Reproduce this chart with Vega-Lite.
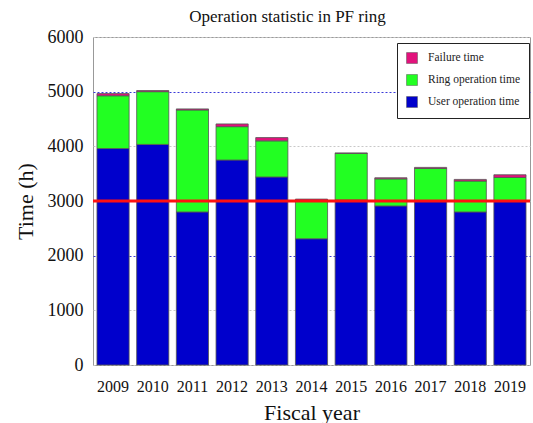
{
  "$schema": "https://vega.github.io/schema/vega-lite/v6.json",
  "autosize": {"type": "none"},
  "width": 437,
  "height": 328,
  "padding": {"left": 93, "top": 37, "right": 3, "bottom": 58},
  "background": "white",
  "config": {
    "font": "Liberation Serif",
    "view": {"stroke": "#999999", "strokeWidth": 1},
    "legend": {"labelFont": "Liberation Serif"}
  },
  "title": {
    "text": "Operation statistic in PF ring",
    "font": "Liberation Serif",
    "fontSize": 17,
    "fontWeight": "normal",
    "color": "#111111",
    "offset": 2,
    "dx": -24
  },
  "data": {
    "values": [
      {"year": "2009", "type": "User operation time", "hours": 3960},
      {"year": "2009", "type": "Ring operation time", "hours": 965},
      {"year": "2009", "type": "Failure time", "hours": 40},
      {"year": "2010", "type": "User operation time", "hours": 4035},
      {"year": "2010", "type": "Ring operation time", "hours": 965},
      {"year": "2010", "type": "Failure time", "hours": 20},
      {"year": "2011", "type": "User operation time", "hours": 2800},
      {"year": "2011", "type": "Ring operation time", "hours": 1865},
      {"year": "2011", "type": "Failure time", "hours": 20},
      {"year": "2012", "type": "User operation time", "hours": 3750},
      {"year": "2012", "type": "Ring operation time", "hours": 610},
      {"year": "2012", "type": "Failure time", "hours": 50},
      {"year": "2013", "type": "User operation time", "hours": 3440},
      {"year": "2013", "type": "Ring operation time", "hours": 660},
      {"year": "2013", "type": "Failure time", "hours": 60},
      {"year": "2014", "type": "User operation time", "hours": 2310},
      {"year": "2014", "type": "Ring operation time", "hours": 705},
      {"year": "2014", "type": "Failure time", "hours": 20},
      {"year": "2015", "type": "User operation time", "hours": 3020},
      {"year": "2015", "type": "Ring operation time", "hours": 850},
      {"year": "2015", "type": "Failure time", "hours": 10},
      {"year": "2016", "type": "User operation time", "hours": 2910},
      {"year": "2016", "type": "Ring operation time", "hours": 495},
      {"year": "2016", "type": "Failure time", "hours": 20},
      {"year": "2017", "type": "User operation time", "hours": 2990},
      {"year": "2017", "type": "Ring operation time", "hours": 605},
      {"year": "2017", "type": "Failure time", "hours": 20},
      {"year": "2018", "type": "User operation time", "hours": 2800},
      {"year": "2018", "type": "Ring operation time", "hours": 565},
      {"year": "2018", "type": "Failure time", "hours": 30},
      {"year": "2019", "type": "User operation time", "hours": 2990},
      {"year": "2019", "type": "Ring operation time", "hours": 440},
      {"year": "2019", "type": "Failure time", "hours": 50}
    ]
  },
  "layer": [
    {
      "mark": {"type": "bar", "stroke": "#555555", "strokeWidth": 0.8},
      "encoding": {
        "x": {
          "field": "year",
          "type": "ordinal",
          "scale": {"paddingInner": 0.19, "paddingOuter": 0.1},
          "axis": {
            "title": "Fiscal year",
            "titleFont": "Liberation Serif",
            "titleFontSize": 22,
            "titleFontWeight": "normal",
            "titleColor": "#111111",
            "titlePadding": 8,
            "labelFont": "Liberation Serif",
            "labelFontSize": 16,
            "labelColor": "#111111",
            "labelAngle": 0,
            "labelPadding": 13,
            "ticks": false,
            "domain": false
          }
        },
        "y": {
          "field": "hours",
          "type": "quantitative",
          "aggregate": "sum",
          "stack": "zero",
          "scale": {"domain": [0, 6000], "nice": false},
          "axis": {
            "title": "Time  (h)",
            "format": "d",
            "titleFont": "Liberation Serif",
            "titleFontSize": 22,
            "titleFontWeight": "normal",
            "titleColor": "#111111",
            "titlePadding": 10,
            "labelFont": "Liberation Serif",
            "labelFontSize": 18,
            "labelColor": "#111111",
            "labelPadding": 10,
            "values": [0, 1000, 2000, 3000, 4000, 5000, 6000],
            "ticks": false,
            "domain": false,
            "grid": true,
            "gridDash": [2, 2],
            "gridWidth": 1,
            "gridColor": {
              "condition": {"test": "datum.value == 2000 || datum.value == 5000", "value": "#3a3ad8"},
              "value": "#c8c8c8"
            }
          }
        },
        "color": {
          "field": "type",
          "type": "nominal",
          "scale": {
            "domain": ["Failure time", "Ring operation time", "User operation time"],
            "range": ["#e2127c", "#22ff22", "#0000cc"]
          },
          "legend": {
            "title": null,
            "orient": "none",
            "legendX": 304,
            "legendY": 6,
            "direction": "vertical",
            "strokeColor": "#222222",
            "fillColor": "white",
            "padding": 9,
            "symbolType": "square",
            "symbolSize": 120,
            "symbolStrokeWidth": 0.5,
            "rowPadding": 8,
            "labelFont": "Liberation Serif",
            "labelFontSize": 11.5,
            "labelColor": "#222222",
            "labelOffset": 10,
            "labelLimit": 200
          }
        }
      }
    },
    {
      "data": {"values": [{"ref": 3000}]},
      "mark": {"type": "rule", "color": "#ff1010", "strokeWidth": 3},
      "encoding": {"y": {"field": "ref", "type": "quantitative"}}
    }
  ]
}
